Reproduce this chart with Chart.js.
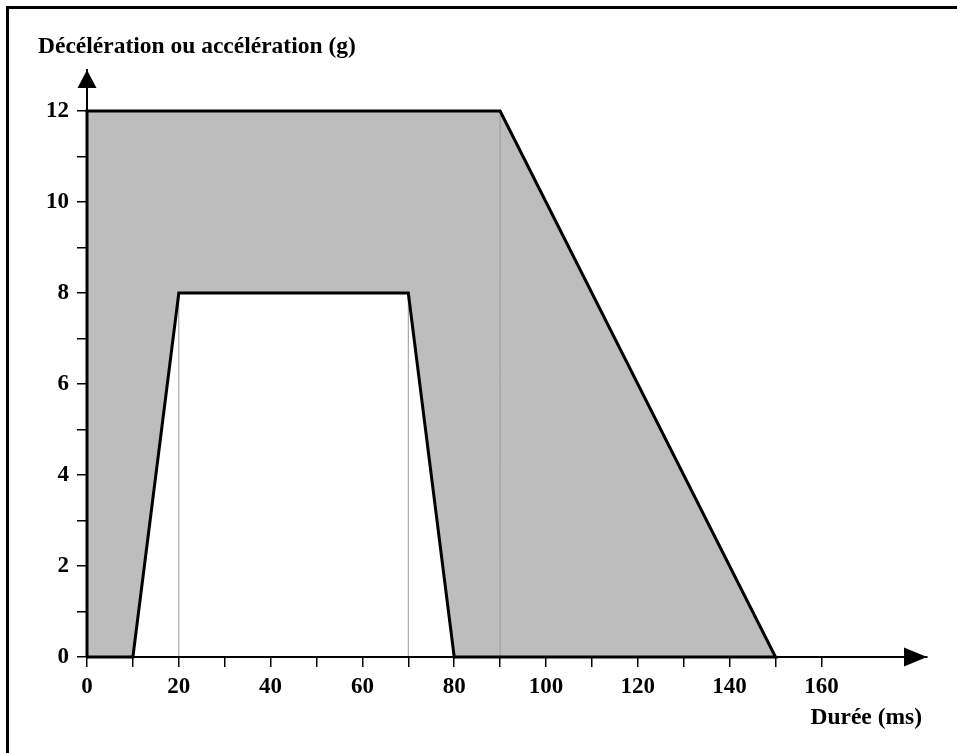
<!DOCTYPE html>
<html>
<head>
<meta charset="utf-8">
<script src="https://cdn.jsdelivr.net/npm/chart.js@4.4.1/dist/chart.umd.min.js"></script>
<style>
  html, body { margin: 0; padding: 0; background: #fff; overflow: hidden; }
  #wrap { position: absolute; left: 0; top: 0; width: 957px; height: 753px; }
  #frame { position: absolute; left: 6px; top: 6px; width: 980px; height: 780px;
           border-top: 3px solid #000; border-left: 3px solid #000; }
  canvas { position: absolute; left: 0; top: 0; }
</style>
</head>
<body>
<div id="wrap">
  <div id="frame"></div>
  <canvas id="chart" width="957" height="753"></canvas>
</div>
<script>
// outer envelope (shaded area) and inner trapezoid (white notch)
const outerX = [0, 0, 90, 150];
const outerY = [0, 12, 12, 0];
const innerX = [10, 20, 70, 80];
const innerY = [0, 8, 8, 0];

// thin vertical guide lines
const guideX = [20, 70, 90];
const guideTop = [8, 8, 12];

// axis ticks
const xTickValues = [0, 10, 20, 30, 40, 50, 60, 70, 80, 90, 100, 110, 120, 130, 140, 150, 160];
const xTickLabels = [0, 20, 40, 60, 80, 100, 120, 140, 160];
const yTickValues = [0, 1, 2, 3, 4, 5, 6, 7, 8, 9, 10, 11, 12];
const yTickLabels = [0, 2, 4, 6, 8, 10, 12];

const yTitle = 'Décélération ou accélération (g)';
const xTitle = 'Durée (ms)';

const FONT = '"Liberation Serif", "Times New Roman", serif';

const pts = (xs, ys) => xs.map((x, i) => ({ x: x, y: ys[i] }));

// full outline: outer shape then back along the inner notch
const outline = pts(outerX, outerY)
  .concat(pts(innerX, innerY).reverse())
  .concat([{ x: outerX[0], y: outerY[0] }]);

const datasets = [
  {
    data: outline, showLine: true, fill: false,
    borderColor: '#000', borderWidth: 3, borderJoinStyle: 'miter',
    pointRadius: 0, clip: false, order: 0
  }
];
guideX.forEach((gx, i) => {
  datasets.push({
    data: [{ x: gx, y: 0 }, { x: gx, y: guideTop[i] }], showLine: true, fill: false,
    borderColor: '#999', borderWidth: 1, pointRadius: 0, order: 1
  });
});
datasets.push({
  data: pts(innerX, innerY), showLine: true, fill: 'origin',
  backgroundColor: '#fff', borderWidth: 0, pointRadius: 0, order: 2
});
datasets.push({
  data: pts(outerX, outerY), showLine: true, fill: 'origin',
  backgroundColor: '#bdbdbd', borderWidth: 0, pointRadius: 0, order: 3
});

// arrow heads and axis titles
const decorations = {
  id: 'decorations',
  afterDraw(chart) {
    const ctx = chart.ctx;
    const x = chart.scales.x, y = chart.scales.y;
    const ca = chart.chartArea;
    const x0 = x.getPixelForValue(0);
    const y0 = y.getPixelForValue(0);
    ctx.save();
    ctx.fillStyle = '#000';
    // y arrow
    ctx.beginPath();
    ctx.moveTo(x0, ca.top);
    ctx.lineTo(x0 - 9.5, ca.top + 18);
    ctx.lineTo(x0 + 9.5, ca.top + 18);
    ctx.closePath();
    ctx.fill();
    // x arrow
    ctx.beginPath();
    ctx.moveTo(ca.right, y0);
    ctx.lineTo(ca.right - 23, y0 - 9.5);
    ctx.lineTo(ca.right - 23, y0 + 9.5);
    ctx.closePath();
    ctx.fill();

    ctx.font = 'bold 23.5px ' + FONT;
    ctx.textBaseline = 'alphabetic';
    ctx.textAlign = 'left';
    ctx.fillText(yTitle, 38, 53);
    ctx.textAlign = 'right';
    ctx.fillText(xTitle, 922, 724);
    ctx.restore();
  }
};

new Chart(document.getElementById('chart'), {
  type: 'scatter',
  data: { datasets: datasets },
  options: {
    responsive: false,
    animation: false,
    events: [],
    layout: { padding: { left: 0, top: 70, right: 30, bottom: 0 } },
    plugins: { legend: { display: false }, tooltip: { enabled: false } },
    scales: {
      x: {
        type: 'linear', min: 0, max: 183,
        afterBuildTicks: s => { s.ticks = xTickValues.map(v => ({ value: v })); },
        afterFit: s => { s.height = 96; },
        ticks: {
          autoSkip: false, maxRotation: 0, padding: 6, color: '#000',
          font: { family: FONT, size: 23, weight: 'bold' },
          callback: v => xTickLabels.includes(v) ? String(v) : ''
        },
        grid: { drawOnChartArea: false, drawTicks: true, tickLength: 10, color: '#000', lineWidth: 1.5, z: 1 },
        border: { color: '#000', width: 2, z: 1 }
      },
      y: {
        type: 'linear', min: 0, max: 12.9,
        afterBuildTicks: s => { s.ticks = yTickValues.map(v => ({ value: v })); },
        afterFit: s => { s.width = 87; },
        ticks: {
          autoSkip: false, padding: 8, color: '#000',
          font: { family: FONT, size: 23, weight: 'bold' },
          callback: v => yTickLabels.includes(v) ? String(v) : ''
        },
        grid: { drawOnChartArea: false, drawTicks: true, tickLength: 10, color: '#000', lineWidth: 1.5, z: 1 },
        border: { color: '#000', width: 2, z: 1 }
      }
    }
  },
  plugins: [decorations]
});
</script>
</body>
</html>
